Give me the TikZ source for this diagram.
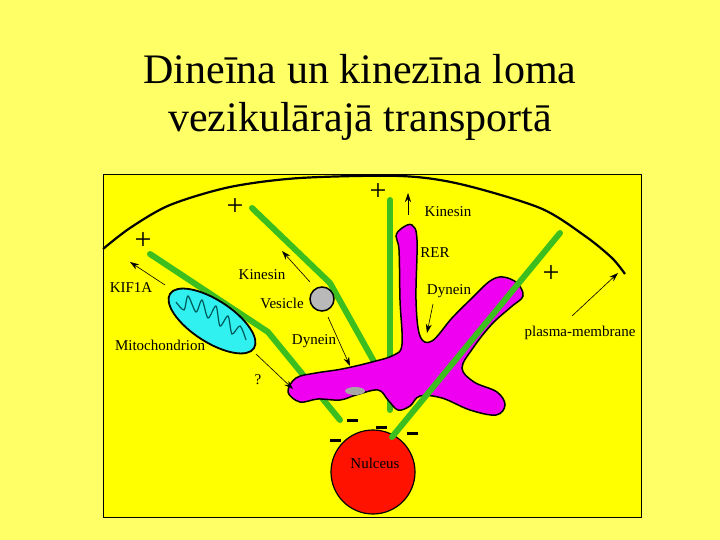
\documentclass[tikz,border=0pt]{standalone}
\usepackage{fontspec}
\setmainfont{Liberation Serif}
\usetikzlibrary{arrows.meta,shapes.geometric}
\definecolor{bgout}{HTML}{FFFF66}
\definecolor{bgin}{HTML}{FFFF00}
\definecolor{mt}{HTML}{3CBE1E}
\definecolor{er}{HTML}{F000F0}
\definecolor{mito}{HTML}{30F0F0}
\tikzset{
  mtub/.style={mt,line width=6pt,line cap=round},
  lbl/.style={font=\fontsize{15}{15}\selectfont,inner sep=1pt},
  arr/.style={-{Stealth[length=9pt,width=6pt]},line width=0.6pt},
  sgn/.style={font=\fontsize{30}{30}\selectfont,inner sep=0pt},
  msgn/.style={fill=black,minimum width=11pt,minimum height=3pt,inner sep=0pt}
}
\begin{document}
\begin{tikzpicture}[x=1pt,y=-1pt]
\fill[bgout] (0,0) rectangle (720,540);
\useasboundingbox (0,0) rectangle (720,540);
\node[font=\fontsize{42}{48}\selectfont,align=center] (title) at (360,97) {Dineīna un kinezīna loma\\vezikulārajā transportā};
\fill[bgin] (103,174) rectangle (641,517);
% membrane
\draw[line width=2.2pt] plot[smooth] coordinates {(103,249) (130,228) (170,205) (230,187) (300,178) (400,176) (460,184) (540,208) (585,236) (612,258) (625,274)};
% nucleus
\begin{scope}
\clip (103,174) rectangle (641,517);
\node[circle,draw,line width=1.2pt,fill=red!85!orange,minimum size=84pt] (nuc) at (373,472) {};
\end{scope}
\node[lbl] (nl) at (375,463) {Nulceus};
% microtubules
\draw[mtub] (150,254) -- (268,332) -- (340,420);
\draw[mtub] (252,208) -- (330,283) -- (377,367);
\draw[mtub] (390,200) -- (390,410);
% ER
\draw[fill=er,line width=1.5pt] plot[smooth cycle,tension=0.6] coordinates {(402,228) (412,225) (417,240) (416,300) (420,336) (432,341) (452,318) (472,298) (490,281) (503,277) (517,283) (523,296) (511,307) (492,324) (473,348) (462,368) (474,382) (497,392) (505,405) (496,415) (470,410) (442,398) (420,396) (410,406) (398,410) (388,400) (378,390) (356,395) (340,400) (318,399) (300,402) (288,392) (296,378) (316,373) (342,369) (372,362) (394,355) (402,344) (400,300) (399,250) (396,236)};
\fill[gray!70] (355,391) ellipse[x radius=10pt,y radius=4pt];
\draw[mtub] (560,233) -- (392,437);
% mitochondrion
\node[ellipse,draw,line width=1.8pt,fill=mito,minimum width=100pt,minimum height=42pt,rotate=-33] (mito) at (212,321) {};
\draw[teal!70!black,line width=1.2pt] plot[smooth] coordinates {(176,302) (184,310) (188,296) (196,312) (202,300) (208,318) (216,306) (220,326) (228,316) (232,334) (240,326) (246,340)};
% vesicle
\node[circle,draw,line width=1.5pt,fill=gray!55,minimum size=24pt,inner sep=0pt] (ves) at (322,299) {};
% labels
\node[lbl] (kif) at (131,288) {KIF1A};
\node[lbl] (kin1) at (262,275) {Kinesin};
\node[lbl] (vesl) at (282,303) {Vesicle};
\node[lbl] (dyn1) at (314,341) {Dynein};
\node[lbl] (mitol) at (160,345) {Mitochondrion};
\node[lbl] (q) at (258,380) {?};
\node[lbl] (kin2) at (448,212) {Kinesin};
\node[lbl] (rer) at (435,253) {RER};
\node[lbl] (dyn2) at (449,291) {Dynein};
\node[lbl] (pm) at (580,333) {plasma-membrane};
% arrows
\coordinate (a1) at (130,262); \draw[arr] (165,285) -- (a1);
\coordinate (a2) at (282,251); \draw[arr] (310,282) -- (a2);
\coordinate (a3) at (350,366); \draw[arr] (328,317) -- (a3);
\coordinate (a4) at (293,389); \draw[arr] (256,354) -- (a4);
\coordinate (a5) at (408,193); \draw[arr] (408,215) -- (a5);
\coordinate (a6) at (427,333); \draw[arr] (433,304) -- (a6);
\coordinate (a7) at (618,273); \draw[arr] (572,316) -- (a7);
% signs
\node[sgn] (p1) at (235,207) {+};
\node[sgn] (p2) at (143,241) {+};
\node[sgn] (p3) at (378,192) {+};
\node[sgn] (p4) at (551,274) {+};
\node[msgn] (m1) at (352,420) {};
\node[msgn] (m2) at (335,440) {};
\node[msgn] (m3) at (381,427) {};
\node[msgn] (m4) at (412,433) {};
\draw[line width=0.8pt] (103,174) rectangle (641,517);
\end{tikzpicture}
\end{document}
